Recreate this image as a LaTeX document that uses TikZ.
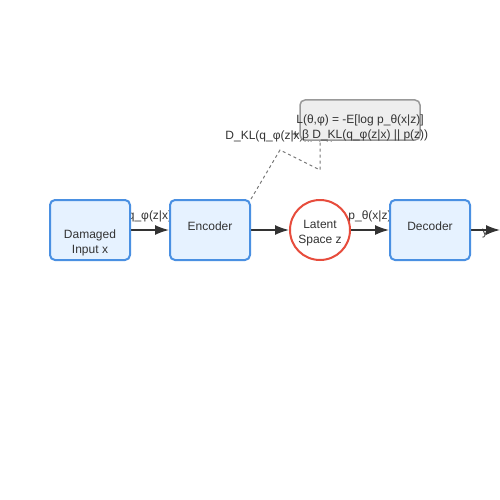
\documentclass[tikz,border=0pt]{standalone}
\usepackage{fontspec}
\setmainfont{Liberation Sans}
\usetikzlibrary{arrows.meta}
\definecolor{boxfill}{HTML}{E6F2FF}
\definecolor{boxline}{HTML}{4A90E2}
\definecolor{latentline}{HTML}{E74C3C}
\definecolor{lossfill}{HTML}{EEEEEE}
\definecolor{lossline}{HTML}{999999}
\definecolor{ink}{HTML}{333333}
\definecolor{dashink}{HTML}{777777}
\pgfdeclarelayer{background}
\pgfsetlayers{background,main}

\begin{document}
\begin{tikzpicture}[x=1pt, y=-1pt, font=\fontsize{12}{15}\selectfont, text=ink,
	block/.style = {draw=boxline, line width=2pt, fill=boxfill, rounded corners=5pt, minimum width=80pt, minimum height=60pt, inner sep=0pt},
	latent/.style = {draw=latentline, line width=2pt, fill=white, circle, minimum size=60pt, inner sep=0pt},
	lossbox/.style = {draw=lossline, line width=1.5pt, fill=lossfill, rounded corners=5pt, minimum width=120pt, minimum height=40pt, inner sep=0pt},
	caption/.style = {align=center, inner sep=0pt},
	flow/.style = {draw=ink, line width=1.5pt, -{Latex[length=14pt, width=10pt]}},
	link/.style = {draw=dashink, line width=1pt, dashed}]
\useasboundingbox (0,0) rectangle (500,500);
\def\ytop{230}
\def\ycap{226}
% blocks
\node[block] (input) at (90,\ytop) {};
\node[caption] (inputtext) at (90,243) {Damaged\\Input x};
\node[block] (encoder) at (210,\ytop) {};
\node[caption] (encodertext) at (210,\ycap) {Encoder};
\node[latent] (latent) at (320,\ytop) {};
\node[caption] (latenttext) at (320,233) {Latent\\Space z};
\node[block] (decoder) at (430,\ytop) {};
\node[caption] (decodertext) at (430,\ycap) {Decoder};
\coordinate (output) at (500,\ytop);
% loss
\node[lossbox] (loss) at (360,120) {};
\node[caption] (losstext) at (360,128) {L(θ,φ) = -E[log p\_θ(x|z)]\\+ β D\_KL(q\_φ(z|x) || p(z))};
\coordinate (kinka) at (280,150);
\coordinate (kinkb) at (320,170);
\begin{pgfonlayer}{background}
\draw[flow] (input.east) -- (encoder.west);
\node[caption] (qlabel) at (150,216) {q\_φ(z|x)};
\draw[flow] (encoder.east) -- (latent.west);
\draw[flow] (latent.east) -- (decoder.west);
\node[caption] (plabel) at (370,216) {p\_θ(x|z)};
\draw[flow] (decoder.east) -- (output);
\node[caption] (ylabel) at (485,234) {y};
\draw[link] (encoder.north east) -- (kinka) -- (kinkb) -- (loss.south -| kinkb);
\node[caption] (kllabel) at (280,136) {D\_KL(q\_φ(z|x)||p(z))};
\end{pgfonlayer}
\end{tikzpicture}
\end{document}
